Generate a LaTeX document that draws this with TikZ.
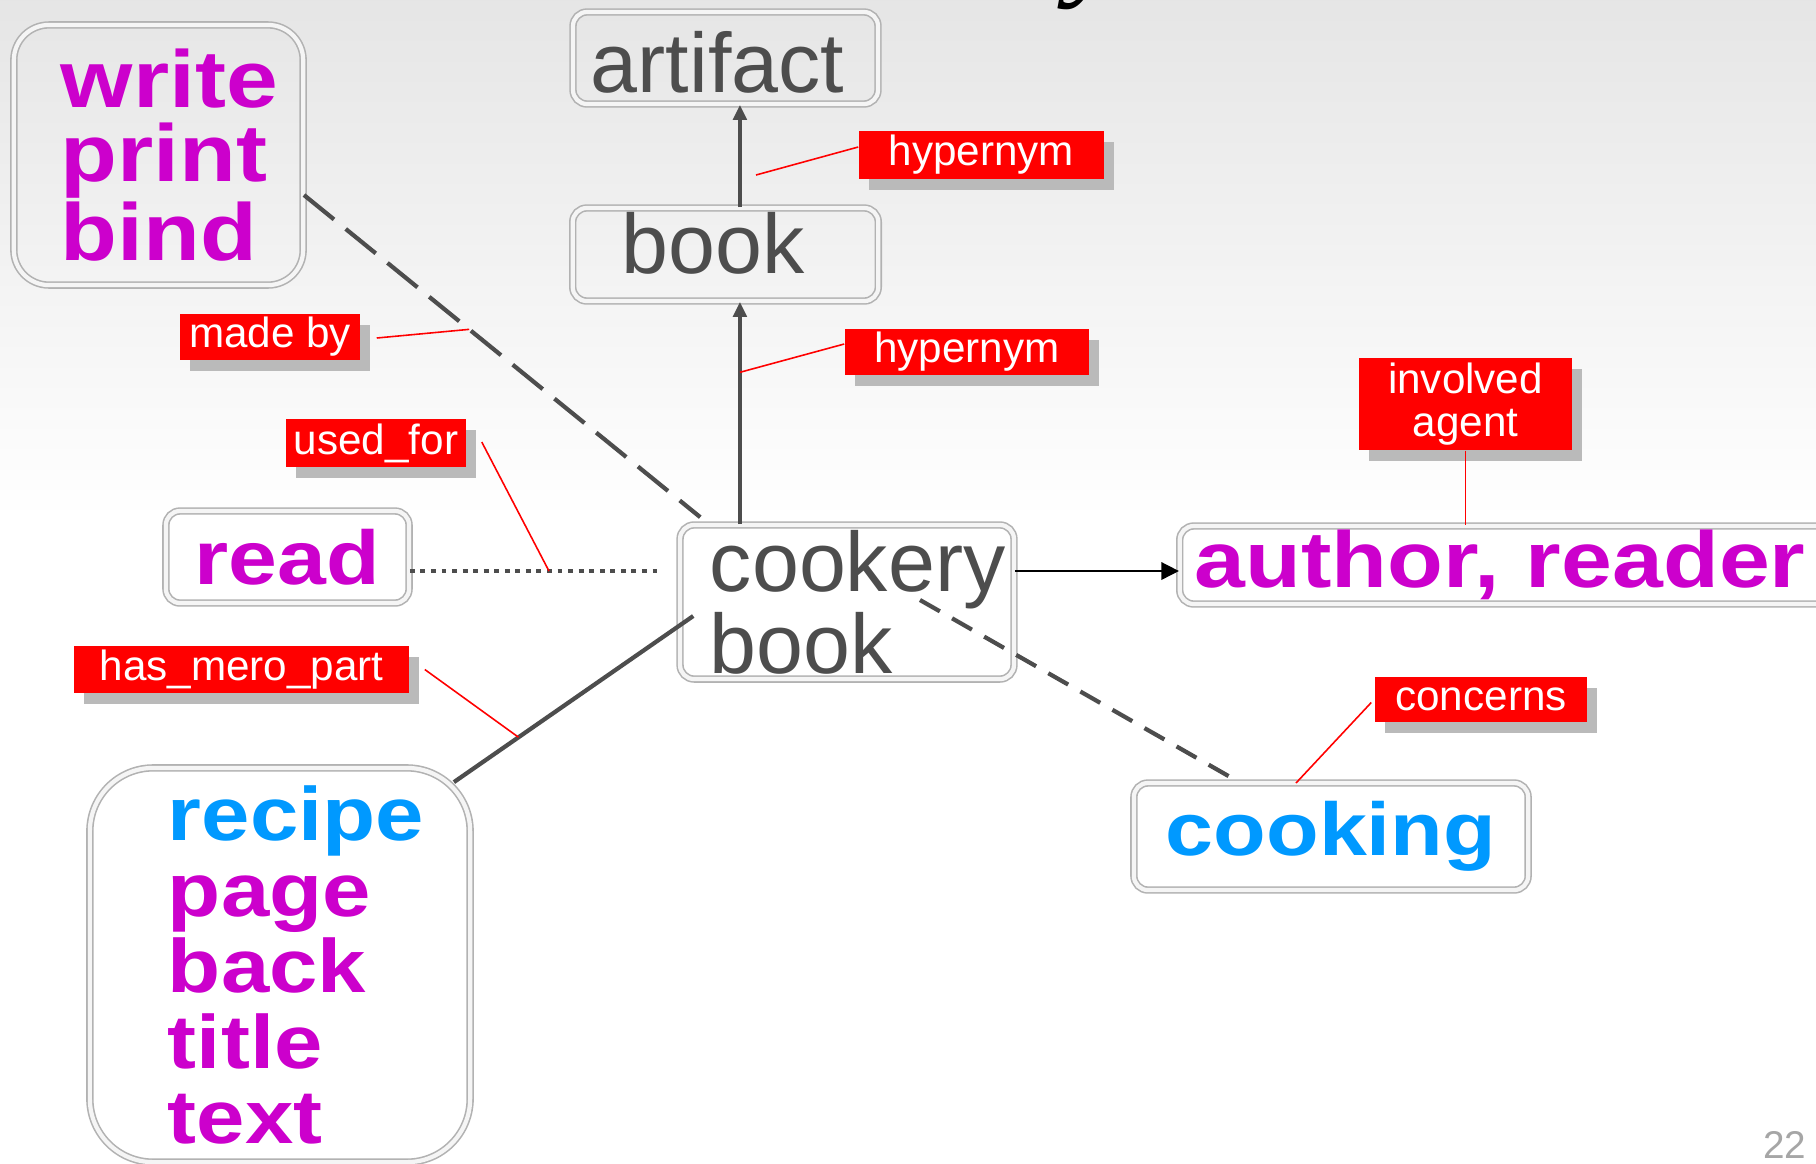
\documentclass[tikz,border=0pt]{standalone}
\usepackage{fontspec}
\setmainfont{Liberation Sans}
\newfontfamily\titlefont{Liberation Serif}
\newfontfamily\lexfont[FakeStretch=1.15]{Liberation Sans}
\usetikzlibrary{arrows.meta,calc,shadows}

\definecolor{wngray}{HTML}{4D4D4D}
\definecolor{wnpurple}{HTML}{CC00CC}
\definecolor{wnblue}{HTML}{0099FF}
\definecolor{relred}{HTML}{FF0000}

\tikzset{
  synset/.style={draw=black!30, double=black!4, double distance=1.2pt, line width=0.45pt,
    rounded corners=4pt, inner sep=0pt, text=wngray, align=left,
    font=\fontsize{24}{22}\selectfont},
  lexset/.style={synset, text=wnpurple, font=\fontsize{22.5}{21.4}\selectfont\lexfont\bfseries},
  rel/.style={fill=relred, text=white, inner sep=0pt, align=center,
    font=\fontsize{12}{12.3}\selectfont,
    general shadow={fill=black!27, shadow xshift=2.8pt, shadow yshift=-3.1pt}},
  leader/.style={draw=relred, line width=0.45pt},
  isa/.style={draw=wngray, line width=1.2pt, -{Triangle[length=4.3pt,width=3.8pt]}},
  agent/.style={draw=black, line width=0.45pt, -{Triangle[length=5pt,width=5pt]}},
  madeby/.style={draw=wngray, line width=1.2pt, dash pattern=on 11pt off 4.3pt},
  usedfor/.style={draw=wngray, line width=1.4pt, dash pattern=on 1.4pt off 1.6pt},
  concern/.style={draw=wngray, line width=1.2pt, dash pattern=on 6.5pt off 4pt},
  part/.style={draw=wngray, line width=1.2pt}
}

\begin{document}
\begin{tikzpicture}[x=0.01cm, y=-0.01cm]
\useasboundingbox (0,0) rectangle (1816,1163);
\fill[white] (0,0) rectangle (1816,1163);
\fill[top color=black!10, bottom color=white] (0,0) rectangle (1816,520);

% slide title tail and page number
\node[anchor=base, font=\fontsize{36}{36}\selectfont\titlefont\itshape] (titletail) at (1097,-18) {y};
\node[anchor=base west, text=black!35, font=\fontsize{11}{11}\selectfont] (pagenum) at (1751,1158) {22};

% synsets
\node[synset, inner xsep=5.1pt, text width=2.69cm, text height=20pt, minimum height=0.92cm] (artifact) at (725.5,58) {artifact};
\node[synset, inner xsep=14pt, text width=2.07cm, text depth=6.6pt, minimum height=0.93cm] (book) at (725.5,254.5) {book};
\node[synset, inner xsep=8.5pt, text width=2.74cm, minimum height=1.54cm] (cookery) at (847,602) {cookery\\book};
\node[lexset, rounded corners=10pt, font=\fontsize{23}{21.3}\selectfont\lexfont\bfseries,
  inner xsep=13.4pt, text width=1.95cm, minimum height=2.60cm] (write) at (158.5,155) {write\\print\\bind};
\node[lexset, font=\fontsize{21.7}{21.4}\selectfont\lexfont\bfseries,
  minimum width=2.43cm, minimum height=0.92cm] (read) at (287.5,557) {read};
\node[lexset, rounded corners=18pt, font=\fontsize{21.5}{21.6}\selectfont\lexfont\bfseries,
  inner xsep=22.2pt, text width=2.24cm, minimum height=3.94cm] (recipe) at (280,965)
  {\textcolor{wnblue}{recipe}\\page\\back\\title\\text};
\node[lexset, font=\fontsize{22.6}{21.4}\selectfont\lexfont\bfseries,
  inner xsep=4.3pt, text width=6.30cm, minimum height=0.78cm] (author) at (1510,565) {author, reader};
\node[lexset, text=wnblue, font=\fontsize{21.3}{21.4}\selectfont\lexfont\bfseries,
  minimum width=3.94cm, minimum height=1.07cm] (cooking) at (1331,836.5) {cooking};

% relations
\draw[isa] ([xshift=4.1pt]book.north) -- ([xshift=4.1pt]artifact.south);
\draw[isa] ([xshift=4.1pt]book.south |- cookery.north) -- ([xshift=4.1pt]book.south)
  coordinate[pos=0.683] (hyp2pt);
\draw[madeby] ($(write.east)+(0,40)$) -- ($(cookery.north west)+(21,-7)$)
  coordinate[pos=0.417] (madept);
\draw[usedfor] ($(read.east)+(0,14)$) -- ($(cookery.west)+(-21,-31)$)
  coordinate[pos=0.56] (usedpt);
\draw[part] ($(recipe.north east)+(-17,15)$) -- ($(cookery.west)+(14,14)$)
  coordinate[pos=0.27] (partpt);
\coordinate (agentpt) at ($(cookery.east)+(0,-31)$);
\draw[agent] (agentpt) -- (author.west |- agentpt);
\draw[concern] ($(cookery.center)+(73,-2)$) -- ($(cooking.north)+(-97,-3)$);

% relation labels
\node[rel, minimum width=2.45cm, minimum height=0.48cm] (hyp1) at (981.5,155) {hypernym};
\node[rel, minimum width=2.44cm, minimum height=0.46cm] (hyp2) at (967,352) {hypernym};
\node[rel, minimum width=1.80cm, minimum height=0.46cm] (made) at (270,337) {made by};
\node[rel, minimum width=1.80cm, minimum height=0.48cm] (used) at (376,443) {used\_for};
\node[rel, minimum width=3.35cm, minimum height=0.47cm] (mero) at (241.5,669.5) {has\_mero\_part};
\node[rel, minimum width=2.13cm, minimum height=0.92cm] (involved) at (1465.5,404) {involved\\agent};
\node[rel, minimum width=2.12cm, minimum height=0.45cm] (concerns) at (1481,699.5) {concerns};

% leaders
\coordinate (hyp1pt) at (756,175);
\coordinate (cookpt) at (1296,783);
\draw[leader] (hyp1pt) -- ($(hyp1.west)+(0,-8)$);
\draw[leader] (hyp2pt) -- ($(hyp2.west)+(0,-8)$);
\draw[leader] ($(made.east)+(16,1)$) -- (madept);
\draw[leader] ($(used.east)+(15,-1)$) -- (usedpt);
\draw[leader] ($(mero.east)+(15,0)$) -- (partpt);
\draw[leader] (involved.south) -- (involved.south |- author.north);
\draw[leader] ($(concerns.west)+(-3,3)$) -- (cookpt);
\end{tikzpicture}
\end{document}
